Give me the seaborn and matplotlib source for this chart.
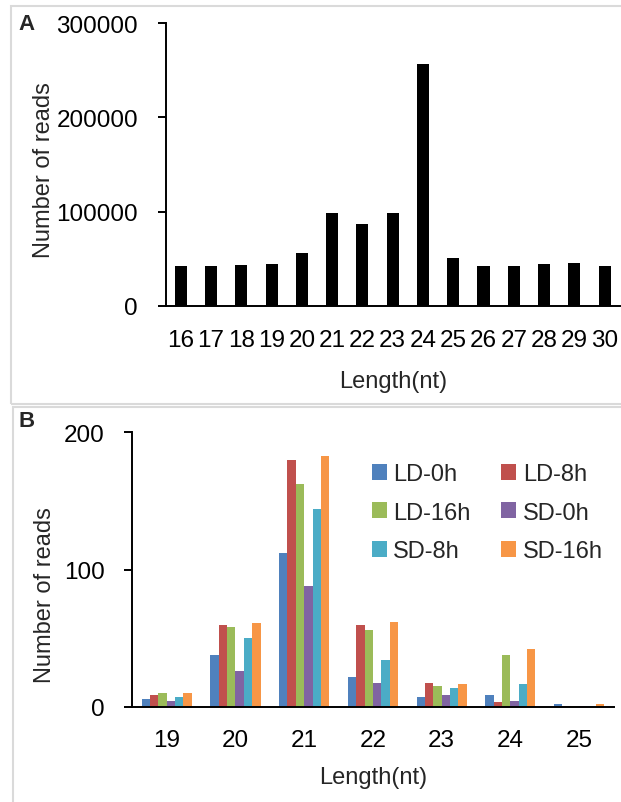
import numpy as np
import pandas as pd
import matplotlib
matplotlib.use('Agg')
import matplotlib.pyplot as plt
import matplotlib.patches as mpatches
import seaborn as sns

# Panel A data: length distribution of all reads
lengths_a = ['16', '17', '18', '19', '20', '21', '22', '23', '24', '25', '26', '27', '28', '29', '30']
reads_a = [42500, 42500, 43500, 44300, 55700, 98200, 86900, 98200, 256400,
           50700, 41800, 41800, 44000, 45000, 42500]

# Panel B data: per-sample counts
lengths_b = ['19', '20', '21', '22', '23', '24', '25']
samples = ['LD-0h', 'LD-8h', 'LD-16h', 'SD-0h', 'SD-8h', 'SD-16h']
ld_0h = [6, 38, 112, 22, 7.5, 8.5, 2]
ld_8h = [8.5, 60, 179.5, 60, 17.5, 3.5, 0.5]
ld_16h = [10.5, 58, 162, 56, 15.5, 37.5, 0.5]
sd_0h = [4.5, 26, 88, 17.5, 8.5, 4.5, 0.5]
sd_8h = [7.5, 50, 144, 34.5, 13.5, 16.5, 0.5]
sd_16h = [10.5, 61, 182.5, 62, 16.5, 42, 2]
colors = ['#4F81BD', '#C0504D', '#9BBB59', '#8064A2', '#4BACC6', '#F79646']

sns.set_theme(style='white')
plt.rcParams['font.family'] = ['Liberation Sans', 'DejaVu Sans']
plt.rcParams['axes.linewidth'] = 1.4

W, H = 621, 803
TICK_FS = 17.5
LABEL_FS = 17
fig = plt.figure(figsize=(W / 100, H / 100), dpi=100)

# panel frames
fig.patches.append(mpatches.Rectangle((11 / W, 1 - 405 / H), 700 / W, 398 / H,
                                      transform=fig.transFigure, fill=False,
                                      edgecolor='#dadada', lw=1.5))
fig.patches.append(mpatches.Rectangle((13 / W, -0.05), 700 / W, 1 - 408 / H + 0.05,
                                      transform=fig.transFigure, fill=False,
                                      edgecolor='#dadada', lw=1.5))


def style_axis(ax, xpad, ypad):
    sns.despine(ax=ax)
    for s in ['left', 'bottom']:
        ax.spines[s].set_color('black')
        ax.spines[s].set_linewidth(1.4)
    ax.tick_params(axis='y', direction='out', length=6, width=1.4, pad=ypad,
                   labelsize=TICK_FS, colors='black', left=True)
    ax.tick_params(axis='x', length=0, pad=xpad, labelsize=TICK_FS, colors='black')


# ---- Panel A ----
ax_a = fig.add_axes([165.7 / W, 1 - 306.7 / H, 454 / W, 282.4 / H])
sns.barplot(x=lengths_a, y=reads_a, color='black', width=0.4, saturation=1,
            linewidth=0, ax=ax_a)
ax_a.set_ylim(0, 300000)
ax_a.set_yticks([0, 100000, 200000, 300000])
ax_a.set_yticklabels(['0', '100000', '200000', '300000'])
ax_a.set_xlim(-0.5, len(lengths_a) - 0.5)
style_axis(ax_a, 17, 14)
ax_a.set_xlabel('Length(nt)', fontsize=LABEL_FS, va='center')
ax_a.xaxis.set_label_coords(0.5, (306.7 - 382) / 282.4)
ax_a.set_ylabel('Number of reads', fontsize=LABEL_FS, va='center')
ax_a.yaxis.set_label_coords((44 - 165.7) / 454, (306.7 - 170) / 282.4)

# ---- Panel B ----
df_b = pd.DataFrame({
    'Length': lengths_b * len(samples),
    'Sample': np.repeat(samples, len(lengths_b)),
    'Reads': ld_0h + ld_8h + ld_16h + sd_0h + sd_8h + sd_16h,
})
ax_b = fig.add_axes([132.3 / W, 1 - 708 / H, 481.2 / W, 274.7 / H])
sns.barplot(data=df_b, x='Length', y='Reads', hue='Sample', hue_order=samples,
            palette=colors, width=0.73, saturation=1, linewidth=0,
            errorbar=None, ax=ax_b)
ax_b.set_ylim(0, 200)
ax_b.set_yticks([0, 100, 200])
ax_b.set_xlim(-0.5, len(lengths_b) - 0.5)
style_axis(ax_b, 16, 14)
ax_b.set_xlabel('Length(nt)', fontsize=LABEL_FS, va='center')
ax_b.xaxis.set_label_coords(0.5, (708 - 778) / 274.7)
ax_b.set_ylabel('Number of reads', fontsize=LABEL_FS, va='center')
ax_b.yaxis.set_label_coords((45 - 132.3) / 481.2, (708 - 595) / 274.7)

handles, labels = ax_b.get_legend_handles_labels()
order = [0, 2, 4, 1, 3, 5]
ax_b.legend([handles[i] for i in order], [labels[i] for i in order], ncol=2,
            frameon=False, loc='upper left', bbox_to_anchor=(0.4975, 0.888),
            fontsize=17, handlelength=0.64, handleheight=0.64,
            handletextpad=0.27, columnspacing=1.3, labelspacing=0.7,
            borderpad=0, borderaxespad=0)

fig.text(18 / W, 1 - 25 / H, 'A', fontsize=16, fontweight='bold', va='center', ha='left')
fig.text(18 / W, 1 - 421.7 / H, 'B', fontsize=16, fontweight='bold', va='center', ha='left')

fig.savefig('out.png', dpi=100)
